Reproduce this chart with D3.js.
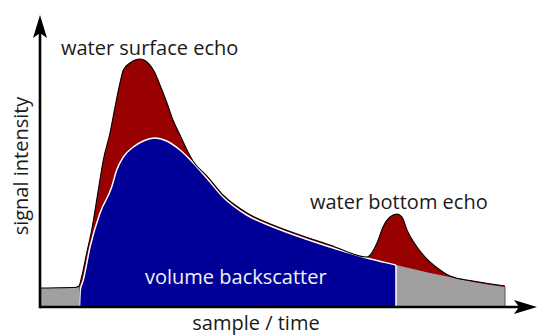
<!DOCTYPE html>
<html>
<head>
<meta charset="utf-8">
<script src="https://cdn.jsdelivr.net/npm/d3@7"></script>
<style>
  html, body { margin: 0; padding: 0; background: #fff; }
  svg { display: block; }
  text { font-family: "Open Sans", "DejaVu Sans", sans-serif; }
</style>
</head>
<body>
<svg id="chart" width="540" height="335"></svg>
<script>
// Total received signal (outer envelope), sample index vs. intensity
const envelopeSample = [1, 20, 36, 39, 41.7, 46.7, 51.7, 58.3, 63.3, 70, 75, 80, 83.3, 90, 100, 108, 115, 120, 127, 133, 140, 147, 153, 167, 183, 207, 233, 260, 290, 327, 337, 343, 350, 357, 362, 367, 377, 390, 400, 410, 433, 465];
const envelopeLevel  = [19, 19.2, 19.7, 21, 30.3, 54, 77, 117, 147, 174, 200, 224, 237, 244, 248, 244, 234, 222, 204, 187, 172, 157, 146, 131, 112, 94, 82, 72, 62, 50, 64, 80, 90, 93, 90, 77, 60, 45, 37, 31, 26, 21];

// Volume backscatter level (continues as noise after the bottom)
const volumeSample = [39.5, 40.3, 43.3, 50, 60, 71.7, 76.7, 83.3, 93.3, 103.3, 115, 126.7, 140, 153.3, 166.7, 183, 206.7, 233, 260, 290, 326.7, 356, 390, 410, 433, 465];
const volumeLevel  = [0, 17, 27, 60, 94, 120, 137, 150, 160, 166, 169, 166, 157, 144, 129, 110, 92, 80, 70, 60, 49, 42, 34, 30, 25, 20];

// Range gates: end of transmit noise, water bottom
const gates = [39.3, 356];

// Axis extents (data units) and labels
const axisExtent = [497, 292];
const labels = {
  surface: "water surface echo",
  bottom: "water bottom echo",
  volume: "volume backscatter",
  xTitle: "sample / time",
  yTitle: "signal intensity"
};

const colors = { echo: "#990000", volume: "#000099", noise: "#a0a0a0" };

const svg = d3.select("#chart");
const x = d3.scaleLinear().domain([0, 500]).range([40, 540]);
const y = d3.scaleLinear().domain([0, 290]).range([307, 17]);

const envelope = envelopeSample.map((s, i) => [s, envelopeLevel[i]]);
const volume = volumeSample.map((s, i) => [s, volumeLevel[i]]);

const area = d3.area().x(d => x(d[0])).y0(y(0)).y1(d => y(d[1])).curve(d3.curveMonotoneX);
const line = d3.line().x(d => x(d[0])).y(d => y(d[1])).curve(d3.curveMonotoneX);

const defs = svg.append("defs");
function clipRect(id, x0, x1) {
  defs.append("clipPath").attr("id", id).append("rect")
    .attr("x", x(x0)).attr("y", 0).attr("width", x(x1) - x(x0)).attr("height", 335);
}
clipRect("clip-pre", 0, gates[0]);
clipRect("clip-water", gates[0], gates[1]);
clipRect("clip-post", gates[1], 500);
defs.append("clipPath").attr("id", "clip-volume").append("path").attr("d", area(volume));

// echo (total signal) fill
svg.append("path").attr("d", area(envelope)).attr("fill", colors.echo);
// transmit noise before the water column
svg.append("path").attr("d", area(envelope)).attr("fill", colors.noise).attr("clip-path", "url(#clip-pre)");
// volume backscatter inside the water column
svg.append("path").attr("d", area(volume)).attr("fill", colors.volume).attr("clip-path", "url(#clip-water)");
// noise below the bottom
svg.append("path").attr("d", area(volume)).attr("fill", colors.noise).attr("clip-path", "url(#clip-post)");

// white edge of the volume region
svg.append("path").attr("d", line(volume)).attr("fill", "none")
  .attr("stroke", "#fff").attr("stroke-width", 1.5).attr("clip-path", "url(#clip-water)");
svg.append("line")
  .attr("x1", x(gates[1])).attr("x2", x(gates[1]))
  .attr("y1", y(0)).attr("y2", y(290))
  .attr("stroke", "#fff").attr("stroke-width", 1.5).attr("clip-path", "url(#clip-volume)");

// closing edge of the trailing noise
const last = volume[volume.length - 1];
svg.append("line")
  .attr("x1", x(last[0])).attr("x2", x(last[0]))
  .attr("y1", y(0)).attr("y2", y(last[1]))
  .attr("stroke", "#555").attr("stroke-width", 1);

// outline of the total signal
svg.append("path").attr("d", line(envelope)).attr("fill", "none")
  .attr("stroke", "#000").attr("stroke-width", 1.1);

// axes with arrow heads
const ax = svg.append("g").attr("stroke", "#000").attr("fill", "#000");
ax.append("line").attr("x1", x(0)).attr("x2", x(axisExtent[0]) - 8)
  .attr("y1", y(0)).attr("y2", y(0)).attr("stroke-width", 2.6);
ax.append("line").attr("x1", x(0)).attr("x2", x(0))
  .attr("y1", y(0) + 1.3).attr("y2", y(axisExtent[1]) + 8).attr("stroke-width", 2.6);

function arrow(tx, ty, angle) {
  ax.append("path")
    .attr("d", "M0,0 L-23,-7 L-18,0 L-23,7 Z")
    .attr("stroke", "none")
    .attr("transform", `translate(${tx},${ty}) rotate(${angle})`);
}
arrow(x(axisExtent[0]), y(0), 0);
arrow(x(0), y(axisExtent[1]), -90);

// labels
const fs = 20;
svg.append("text").attr("x", 61).attr("y", 55).attr("font-size", fs).attr("fill", "#1a1a1a").text(labels.surface);
svg.append("text").attr("x", 310).attr("y", 209).attr("font-size", fs).attr("fill", "#1a1a1a").text(labels.bottom);
svg.append("text").attr("x", 145).attr("y", 284).attr("font-size", fs).attr("fill", "#f2f2f2").text(labels.volume);
svg.append("text").attr("x", 256).attr("y", 330).attr("font-size", fs).attr("text-anchor", "middle").attr("fill", "#1a1a1a").text(labels.xTitle);
svg.append("text").attr("transform", "translate(28,166) rotate(-90)").attr("font-size", fs)
  .attr("text-anchor", "middle").attr("fill", "#1a1a1a").text(labels.yTitle);
</script>
</body>
</html>
